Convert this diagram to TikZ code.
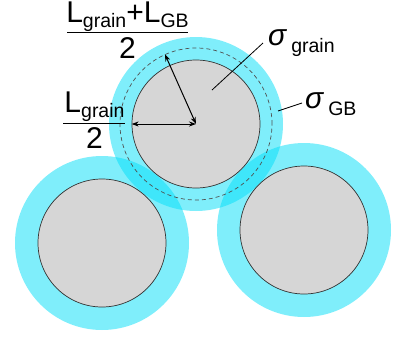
\documentclass[tikz,border=0pt]{standalone}
\usepackage{fontspec}
\setmainfont{Liberation Sans}
\usetikzlibrary{arrows.meta}
\definecolor{cyanfill}{RGB}{0,222,248}
\definecolor{grainfill}{RGB}{214,214,214}
\definecolor{edge}{RGB}{50,50,50}
\definecolor{dashc}{RGB}{80,80,80}
\newcommand{\bigtxt}{\fontsize{30}{32}\selectfont}
\newcommand{\subtx}[1]{\raisebox{-5pt}{\fontsize{19.5}{20}\selectfont #1}}
\newcommand{\subsg}[1]{\raisebox{-7pt}{\fontsize{19.5}{20}\selectfont #1}}
\newcommand{\sgm}{{\fontsize{30}{30}\selectfont\itshape σ}}
\tikzset{
  shell/.style={circle, inner sep=0pt, minimum size=174pt, fill=cyanfill, fill opacity=0.5, draw=none},
  grain/.style={circle, inner sep=0pt, minimum size=128pt, fill=grainfill, draw=edge, line width=0.7pt},
  dashring/.style={circle, inner sep=0pt, minimum size=152pt, draw=dashc, line width=0.7pt, dash pattern=on 4pt off 3pt},
  dim/.style={{Stealth[length=7pt,width=5pt]}-{Stealth[length=7pt,width=5pt]}, line width=1pt, black},
  leader/.style={line width=0.8pt, black},
  fracline/.style={line width=1.2pt, black},
  lbl/.style={inner sep=0pt, anchor=base west, font=\bigtxt},
  lblc/.style={inner sep=0pt, anchor=base, font=\bigtxt}
}
\begin{document}
\begin{tikzpicture}[x=1pt,y=-1pt]
\useasboundingbox (0,0) rectangle (394,338);
% shells
\node[shell] (lo) at (102,243) {};
\node[shell] (ro) at (304,230) {};
\node[shell] (to) at (196,124) {};
% grains
\node[grain] (lg) at (102,243) {};
\node[grain] (rg) at (304,230) {};
\node[grain] (tg) at (196,124) {};
% dashed ring
\node[dashring] (td) at (196,124) {};
% dimension arrows
\draw[dim] (tg.west) -- (tg.center);
\draw[dim] (tg.center) -- (td.114);
% leaders
\coordinate (sgA) at (212,90);
\coordinate (sgB) at (263,43);
\coordinate (sbA) at (278,111);
\coordinate (sbB) at (302,103);
\draw[leader] (sgA) -- (sgB);
\draw[leader] (sbA) -- (sbB);
% sigma labels
\node[lbl] (sgrain) at (268,45) {\sgm\,\subsg{grain}};
\node[lbl] (sgb) at (305,108) {\sgm\,\subsg{GB}};
% top fraction
\node[lblc] (num1) at (127.5,22.5) {L\subtx{grain}+L\subtx{GB}};
\coordinate (f1a) at (67,32.5);
\coordinate (f1b) at (188,32.5);
\draw[fracline] (f1a) -- (f1b);
\node[lblc] (den1) at (127.5,58) {2};
% left fraction
\node[lblc] (num2) at (94.5,112) {L\subtx{grain}};
\coordinate (f2a) at (63,123.5);
\coordinate (f2b) at (125,123.5);
\draw[fracline] (f2a) -- (f2b);
\node[lblc] (den2) at (94.5,148) {2};
\end{tikzpicture}
\end{document}
